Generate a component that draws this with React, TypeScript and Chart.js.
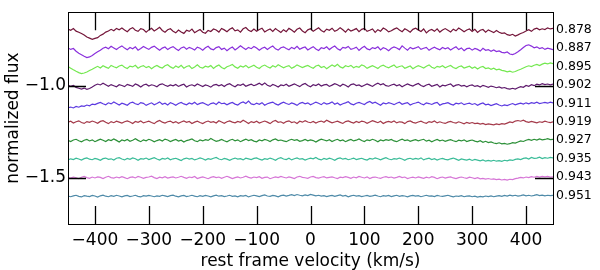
import React, { useEffect, useRef } from "react";
import { Chart, registerables } from "chart.js";

Chart.register(...registerables);

// rest-frame velocity grid (km/s)
const velocity = [
  -450, -445, -440, -435, -430, -425, -420, -415, -410, -405, -400, -395, -390, -385, -380, -375, -370, -365, -360, -355,
  -350, -345, -340, -335, -330, -325, -320, -315, -310, -305, -300, -295, -290, -285, -280, -275, -270, -265, -260, -255,
  -250, -245, -240, -235, -230, -225, -220, -215, -210, -205, -200, -195, -190, -185, -180, -175, -170, -165, -160, -155,
  -150, -145, -140, -135, -130, -125, -120, -115, -110, -105, -100, -95, -90, -85, -80, -75, -70, -65, -60, -55,
  -50, -45, -40, -35, -30, -25, -20, -15, -10, -5, 0, 5, 10, 15, 20, 25, 30, 35, 40, 45,
  50, 55, 60, 65, 70, 75, 80, 85, 90, 95, 100, 105, 110, 115, 120, 125, 130, 135, 140, 145,
  150, 155, 160, 165, 170, 175, 180, 185, 190, 195, 200, 205, 210, 215, 220, 225, 230, 235, 240, 245,
  250, 255, 260, 265, 270, 275, 280, 285, 290, 295, 300, 305, 310, 315, 320, 325, 330, 335, 340, 345,
  350, 355, 360, 365, 370, 375, 380, 385, 390, 395, 400, 405, 410, 415, 420, 425, 430, 435, 440, 445,
  450,
];

// spectrum labels (right side)
const labels = ["0.878", "0.887", "0.895", "0.902", "0.911", "0.919", "0.927", "0.935", "0.943", "0.951"];

// vertical offsets of each spectrum
const baselines = [-0.7, -0.8, -0.9, -1.0, -1.1, -1.2, -1.3, -1.4, -1.5, -1.6];

const colors = ["#74163a", "#8a30dc", "#74e850", "#5e1a6c", "#5c3ae0", "#a43a4a", "#2c9038", "#3abc98", "#d676d6", "#4e8aa8"];

// flux deviations from continuum, in percent
const s0878 = [
  0.8, 0.2, 1.1, -0.3, -0.9, -1.6, -2.4, -3.5, -4.1, -4.7,
  -4.2, -3.8, -2.6, -1.9, -0.8, -0.2, 0.7, -0.1, 1.2, 0.5,
  1.4, 0.3, -0.6, 0.9, 1.6, 0.2, -0.4, 1.1, 0.6, -0.8,
  0.4, 1.3, -0.2, 0.7, 1.8, 0.1, -0.9, 0.5, 1.0, -0.3,
  -1.2, 0.3, -0.7, -1.5, 0.2, -0.4, 0.8, -1.1, -0.2, 0.6,
  -0.9, -1.4, 0.1, -0.5, 0.9, 0.3, -0.8, 1.2, 0.4, -0.6,
  0.7, 1.5, -0.1, 0.4, -0.8, 1.0, 1.7, 0.2, -0.5, 0.8,
  -0.3, 0.6, 1.3, -0.7, 0.2, 0.9, -0.4, 1.1, 0.0, -1.0,
  0.5, -0.6, 1.2, 0.3, -0.9, 0.7, 1.4, -0.2, -1.1, 0.4,
  1.0, -0.3, 0.6, 1.5, 0.1, -0.7, 0.8, 0.2, 1.3, -0.4,
  0.3, 1.6, 0.5, -0.8, 0.9, -0.2, 0.4, 1.1, -0.6, 0.7,
  1.2, -0.4, 0.2, 0.9, -1.0, 0.5, -0.3, 1.4, 0.6, -0.7,
  -0.1, 0.8, 1.5, 0.3, -0.6, 1.0, 0.2, -0.9, 0.7, 1.3,
  0.4, -0.5, 0.9, -1.2, 0.1, 0.6, -0.4, 1.0, -0.8, 0.3,
  1.1, 0.2, -0.7, 0.8, -0.1, 1.4, 0.5, -0.6, 0.3, 0.9,
  -0.4, 0.7, -1.0, 0.2, 0.6, -0.8, 0.4, -0.3, -1.1, 0.1,
  -0.9, -1.5, -1.2, -2.2, -2.6, -2.0, -2.9, -2.3, -1.6, -1.0,
  -0.2, 0.5, -0.4, 0.8, 1.3, 0.4, 1.0, 0.6, 1.5, 0.9,
  1.2,
];
const s0887 = [
  0.6, -0.2, 0.3, -1.2, -2.3, -3.1, -3.9, -4.6, -4.3, -3.5,
  -2.4, -1.5, -0.6, 0.4, 1.0, 0.2, 1.5, 0.6, -0.3, 0.9,
  1.7, 0.5, -0.4, 0.8, 0.1, 1.2, -0.6, 0.3, 1.4, 0.6,
  -0.2, 0.9, 1.6, 0.4, -0.7, 0.5, 1.1, -0.3, 0.7, 1.3,
  0.2, -0.8, 0.6, 1.2, -0.1, 0.9, 0.3, -0.5, 1.0, 0.4,
  -0.6, 0.7, 1.5, 0.1, -0.4, 0.8, 1.3, -0.2, 0.5, -0.9,
  0.3, 1.1, -0.5, 0.6, 1.8, 0.7, -0.3, 0.9, 0.2, 1.4,
  0.5, -0.7, 0.4, 1.0, -0.2, 0.8, 1.6, 0.1, -0.6, 0.7,
  1.2, 0.3, -0.4, 0.9, 0.2, 1.5, -0.1, 0.6, 1.1, -0.5,
  0.4, 1.3, 0.0, -0.8, 0.7, 0.3, 1.2, -0.3, 0.8, 1.6,
  0.2, -0.6, 0.9, 0.5, 1.4, -0.2, 0.3, 1.0, -0.7, 0.6,
  1.5, 0.1, -0.4, 0.8, 0.3, 1.2, -0.5, 0.7, 0.2, -0.9,
  0.4, 1.1, 0.6, -0.3, 1.7, 0.5, -0.6, 0.9, 0.1, 0.6,
  1.3, -0.2, 0.4, 0.9, -0.7, 0.3, 1.0, 0.2, -0.4, 0.8,
  0.1, 0.7, -0.5, 0.4, 1.2, -0.3, 0.6, -0.9, 0.2, 0.5,
  -0.6, 0.3, -0.2, -1.1, 0.4, -0.7, -0.3, -1.2, -0.5, -1.4,
  -1.0, -1.8, -2.1, -1.6, -2.7, -3.0, -2.4, -1.5, -0.4, 0.8,
  1.9, 2.3, 1.6, 0.7, 1.2, 0.3, 0.8, -0.2, 0.5, 0.1,
  -0.3,
];
const s0895 = [
  0.5, -0.4, -1.3, -2.1, -2.8, -3.3, -3.0, -2.5, -1.7, -1.0,
  -0.2, 0.6, -0.3, 0.9, 0.2, -0.5, 1.1, 0.4, -0.2, 0.8,
  1.3, 0.1, -0.6, 0.7, 0.3, 1.2, -0.4, 0.5, 1.0, -0.1,
  0.6, -0.7, 0.4, 1.1, 0.2, -0.3, 0.9, 1.5, 0.3, -0.5,
  0.8, 0.0, 1.2, -0.4, 0.5, 0.9, -0.6, 0.3, 1.4, 0.1,
  -0.3, 0.7, 0.2, 1.0, -0.5, 0.6, 1.3, 0.0, -0.7, 0.4,
  0.9, 1.6, 0.3, -0.4, 0.8, 0.2, 1.1, -0.2, 0.5, 1.2,
  0.1, -0.6, 0.7, 1.3, 0.4, -0.3, 0.9, 0.2, 1.5, 0.6,
  -0.2, 0.5, 1.0, -0.5, 0.3, 1.4, 0.7, -0.1, 0.6, 1.1,
  0.2, -0.4, 0.8, 1.2, 0.0, 0.6, -0.7, 0.4, 1.3, 0.5,
  1.7, 0.3, -0.3, 0.9, 0.4, 1.1, -0.2, 0.6, 0.1, 1.4,
  0.8, -0.5, 0.3, 1.0, 0.2, -0.6, 0.7, 1.2, 0.4, -0.2,
  0.6, 1.3, -0.1, 0.5, 0.9, -0.4, 0.2, 0.8, -0.7, 0.3,
  1.0, 0.4, -0.3, 0.7, 1.4, 0.1, -0.5, 0.6, 0.2, 0.9,
  -0.2, 0.5, 1.1, 0.0, -0.6, 0.4, 0.8, -0.3, 0.2, 0.7,
  -0.4, 0.3, -0.8, 0.1, 0.5, -0.6, -0.2, -1.0, -0.4, -1.3,
  -0.9, -1.6, -1.9, -2.4, -2.0, -2.6, -2.2, -1.5, -1.0, -0.3,
  0.4, 0.9, 0.5, 1.2, 1.6, 1.0, 1.8, 2.3, 1.9, 2.5,
  2.1,
];
const s0902 = [
  0.4, -0.3, 0.2, -0.8, -1.3, -1.7, -1.2, -1.9, -1.4, -0.6,
  0.3, 1.0, 0.5, 1.4, 0.6, -0.2, 0.7, 0.1, -0.5, 0.6,
  0.2, -0.4, 0.8, 0.3, -0.3, 1.0, 0.4, -0.6, 0.5, 0.9,
  -0.1, 0.6, 0.2, -0.5, 0.7, 1.1, 0.3, -0.2, 0.5, 0.0,
  0.8, -0.3, 0.4, 0.9, -0.6, 0.2, 0.6, -0.1, 1.0, 0.3,
  -0.4, 0.5, 0.1, -0.7, 0.4, 0.8, 0.0, 0.6, -0.3, 0.7,
  1.2, 0.2, -0.5, 0.6, 0.3, 1.0, -0.2, 0.4, 0.9, 0.1,
  0.7, 1.4, 0.5, 1.6, 0.3, -0.3, 0.8, 0.2, -0.6, 0.5,
  0.1, 0.9, -0.2, 0.4, 1.1, 0.3, -0.4, 0.7, 1.3, 0.2,
  -0.5, 0.6, 0.2, 1.0, -0.1, 0.5, 0.8, -0.3, 0.4, 1.2,
  0.6, -0.2, 0.9, 0.3, -0.6, 0.7, 1.1, 0.2, 0.5, -0.4,
  0.3, 1.0, 0.4, -0.3, 0.8, 1.5, 0.6, 1.2, 0.1, -0.2,
  0.5, 0.9, 0.0, 0.6, -0.5, 0.3, 1.0, 0.4, -0.1, 0.7,
  1.3, 0.2, -0.4, 0.5, 0.9, -0.2, 0.3, 0.8, -0.6, 0.4,
  0.0, 0.6, 1.1, -0.3, 0.4, 0.7, -0.1, 0.3, -0.5, 0.2,
  0.5, -0.3, 0.1, -0.6, 0.3, -0.2, -0.8, -0.1, -0.5, -1.0,
  -0.6, -1.2, -0.9, -1.5, -1.8, -1.3, -1.7, -1.0, -0.4, -0.8,
  0.2, -0.2, 0.6, 0.1, 0.9, 0.5, 1.2, 0.7, 1.0, 0.6,
  0.9,
];
const s0911 = [
  -1.9, -1.5, -2.0, -1.2, -1.6, -0.9, -1.1, -0.4, -0.8, 0.1,
  -0.2, 0.5, 1.0, 0.3, -0.3, 0.8, 0.2, 1.2, 0.4, -0.4,
  0.6, 0.1, -0.5, 0.7, 1.1, 0.3, -0.2, 0.9, 0.5, -0.6,
  0.2, 0.8, -0.3, 0.4, 1.3, 0.0, 0.6, -0.4, 0.9, 0.3,
  -0.5, 0.4, 1.0, 0.2, -0.3, 0.7, 0.1, 1.1, -0.2, 0.5,
  0.9, 0.2, -0.6, 0.4, 0.8, -0.1, 1.2, 0.3, 0.6, -0.3,
  0.5, 1.0, 0.1, -0.4, 0.7, 1.3, 0.4, 1.7, 0.2, -0.2,
  0.6, 0.0, 0.9, -0.5, 0.3, 0.8, 1.2, 0.2, -0.4, 0.5,
  1.1, 0.4, -0.1, 0.7, 0.2, -0.6, 0.5, 1.0, 0.3, 0.8,
  -0.3, 0.4, 1.2, 0.6, -0.2, 0.9, 0.1, 0.5, 1.3, 0.0,
  0.7, -0.4, 0.3, 0.8, 1.4, 0.2, -0.3, 0.6, 1.0, 0.4,
  -0.1, 0.9, 1.5, 0.5, 1.1, 0.3, -0.5, 0.7, 0.2, 0.9,
  0.4, -0.2, 0.6, 1.1, 0.0, 0.5, 0.9, -0.4, 0.3, 0.7,
  1.2, 0.3, -0.3, 0.8, 0.4, -0.1, 0.6, 1.0, -0.5, 0.2,
  0.5, 0.9, 0.1, -0.4, 0.6, 0.2, 0.8, -0.2, 0.3, 0.6,
  -0.1, 0.4, -0.5, 0.2, 0.7, -0.3, 0.1, -0.7, -0.2, 0.3,
  -0.4, -0.9, -0.3, -0.7, -0.1, 0.4, -0.3, 0.2, 0.6, 0.1,
  0.8, 0.3, 0.9, 0.5, 1.1, 0.4, 0.7, 1.0, 0.6, 1.2,
  0.8,
];
const s0919 = [
  0.3, 0.8, -0.2, 0.5, 1.0, 0.1, -0.4, 0.6, 0.2, 0.9,
  0.4, -0.3, 0.7, 1.1, 0.2, -0.5, 0.6, 0.0, 0.8, 0.3,
  -0.2, 0.5, 1.0, 0.4, -0.4, 0.7, 0.2, 0.9, -0.1, 0.4,
  0.8, 0.1, -0.5, 0.6, 1.2, 0.3, -0.2, 0.5, 0.9, 0.0,
  0.6, -0.3, 0.4, 1.0, 0.2, 0.7, -0.4, 0.3, 0.8, 0.1,
  -0.5, 0.4, 0.9, 0.2, 0.6, -0.2, 1.1, 0.4, -0.3, 0.5,
  1.0, 0.3, -0.1, 0.7, 0.2, 1.3, 0.5, -0.4, 0.6, 0.1,
  0.8, -0.2, 0.4, 0.9, 0.3, -0.5, 0.7, 1.2, 0.2, 0.5,
  -0.3, 0.6, 1.0, 0.1, 0.5, -0.4, 0.8, 0.3, 1.1, 0.4,
  0.0, 0.7, -0.2, 0.5, 0.9, 0.2, 1.3, 0.6, -0.1, 0.4,
  0.8, 0.2, -0.4, 0.6, 1.0, 0.3, -0.2, 0.7, 0.1, 0.9,
  0.5, -0.3, 0.4, 1.1, 0.6, 0.0, 0.8, -0.4, 0.3, 0.7,
  0.2, 0.9, -0.1, 0.5, 0.3, -0.5, 0.6, 1.0, 0.2, -0.2,
  0.4, 0.8, 0.1, -0.3, 0.6, 0.2, 0.9, -0.1, 0.5, 0.0,
  -0.4, 0.3, 0.7, 0.1, -0.2, 0.5, 0.0, -0.6, 0.2, -0.3,
  0.1, -0.5, -0.2, -0.8, -0.4, -1.0, -0.6, -0.9, -1.2, -0.7,
  -1.0, -0.5, -0.8, -0.2, 0.4, 0.1, 0.9, 1.2, 0.8, 1.4,
  0.6, 0.2, 0.7, 0.3, -0.1, 0.5, 0.2, 0.8, 0.4, 0.1,
  0.5,
];
const s0927 = [
  0.4, -0.2, 0.6, 1.0, 0.2, -0.4, 0.5, 0.9, 0.1, 0.7,
  -0.3, 0.4, 1.1, 0.5, -0.2, 0.8, 0.3, 1.2, 0.4, -0.5,
  0.6, 0.2, 0.9, -0.1, 0.5, 1.3, 0.4, -0.3, 0.7, 0.2,
  1.0, 0.5, -0.4, 0.3, 0.8, 0.1, 1.1, 0.6, -0.2, 0.4,
  0.9, 0.0, 0.5, -0.5, 0.3, 0.7, 1.2, 0.2, -0.3, 0.6,
  0.1, 0.8, 0.4, 1.4, 0.6, -0.1, 0.3, 0.9, 0.2, -0.4,
  0.5, 1.0, 0.2, 0.7, -0.3, 0.4, 1.1, 0.3, 0.8, 0.0,
  -0.4, 0.6, 0.2, 0.9, 0.5, -0.2, 0.7, 1.2, 0.3, 0.6,
  0.1, -0.3, 0.5, 1.0, 0.4, 0.8, -0.1, 0.3, 0.9, 0.2,
  0.7, 0.3, -0.5, 0.4, 1.1, 0.6, 0.1, 0.8, -0.2, 0.5,
  1.0, 0.2, 0.6, -0.3, 0.4, 0.9, 0.1, 0.5, 1.2, 0.3,
  -0.2, 0.7, 0.3, 1.0, 0.5, -0.4, 0.6, 0.2, 0.8, 0.4,
  0.9, 0.1, -0.3, 0.5, 1.1, 0.3, 0.7, -0.1, 0.4, 0.8,
  0.2, 0.6, 1.0, 0.0, 0.5, -0.4, 0.3, 0.9, 0.2, 0.6,
  -0.1, 0.4, 0.8, 0.2, -0.3, 0.5, 0.1, 0.7, -0.2, 0.3,
  0.6, 0.0, -0.4, 0.2, -0.6, -0.1, -0.8, -0.4, -1.0, -1.3,
  -0.9, -1.5, -1.2, -1.7, -1.4, -0.8, -1.1, -0.5, 0.1, -0.2,
  0.5, 0.9, 0.4, 1.0, 0.6, 1.2, 0.7, 0.9, 1.3, 0.8,
  1.0,
];
const s0935 = [
  -0.2, 0.4, 0.0, 0.7, 0.3, -0.3, 0.5, 0.9, 0.2, -0.1,
  0.6, 0.2, -0.4, 0.5, 0.8, 0.1, 0.4, -0.3, 0.7, 1.0,
  0.3, -0.2, 0.6, 0.1, 0.9, 0.4, -0.4, 0.5, 0.2, 0.8,
  0.0, 0.5, 1.0, 0.3, -0.3, 0.6, 0.2, 0.9, -0.1, 0.4,
  0.7, 0.1, -0.5, 0.4, 0.8, 0.2, 0.6, -0.2, 0.3, 0.9,
  0.4, -0.3, 0.5, 0.1, 0.7, 1.1, 0.3, -0.1, 0.6, 0.2,
  -0.4, 0.3, 0.8, 0.2, 0.5, -0.2, 0.7, 0.4, 0.0, 0.6,
  0.9, 0.2, -0.3, 0.5, 0.1, 0.8, 0.3, -0.4, 0.6, 1.0,
  0.3, 0.0, 0.7, -0.2, 0.4, 0.9, 0.2, 0.5, -0.3, 0.3,
  0.8, 0.4, 1.1, 0.2, -0.2, 0.6, 0.1, 0.7, 0.3, -0.4,
  0.5, 0.9, 0.2, 0.6, -0.1, 0.3, 0.8, 0.0, 0.4, 0.7,
  0.1, -0.3, 0.6, 0.2, 0.9, 0.4, -0.2, 0.5, 1.0, 0.3,
  -0.1, 0.5, 0.2, 0.8, 0.3, -0.4, 0.4, 0.7, 0.1, 0.6,
  0.2, 0.9, -0.2, 0.4, 0.7, 0.0, 0.5, -0.3, 0.3, 0.6,
  0.1, -0.2, 0.4, 0.8, 0.2, -0.4, 0.3, 0.0, -0.3, 0.2,
  -0.5, 0.1, -0.3, -0.7, -0.2, -0.9, -0.5, -0.8, -0.4, -0.9,
  -0.6, -1.0, -0.4, -0.7, -0.2, -0.5, 0.1, 0.4, 0.0, 0.6,
  0.9, 0.3, 1.1, 0.6, 0.8, 1.3, 0.5, 1.0, 0.7, 1.2,
  0.9,
];
const s0943 = [
  0.3, -0.1, 0.5, 0.1, -0.4, 0.4, 0.8, 0.2, -0.2, 0.5,
  0.0, 0.6, 0.3, -0.3, 0.4, 0.9, 0.2, -0.1, 0.5, 0.1,
  0.7, 0.2, -0.4, 0.3, 0.6, 0.0, 0.8, 0.4, -0.2, 0.3,
  0.5, 1.0, 0.2, -0.3, 0.4, 0.1, 0.7, -0.1, 0.3, 0.6,
  0.0, 0.4, 0.9, 0.3, -0.2, 0.5, 0.2, 0.8, -0.3, 0.2,
  0.6, 0.1, -0.4, 0.3, 0.7, 0.2, 0.5, -0.2, 0.4, 0.9,
  0.3, -0.3, 0.2, 0.6, 0.0, 0.4, 1.0, 0.3, -0.1, 0.5,
  0.2, 0.7, -0.2, 0.3, 0.5, -0.4, 0.1, 0.6, 0.2, 0.8,
  0.4, 0.0, 0.6, 0.2, -0.3, 0.5, 0.9, 0.3, 0.1, -0.2,
  0.5, 0.8, 0.2, -0.1, 0.4, 0.7, 0.0, 0.3, 0.6, 0.1,
  -0.3, 0.4, 0.2, 0.7, 0.3, -0.2, 0.5, 0.1, 0.8, 0.4,
  0.0, 0.6, -0.3, 0.3, 0.5, 0.1, -0.2, 0.4, 0.7, 0.2,
  0.5, -0.1, 0.3, 0.8, 0.2, 0.5, -0.3, 0.1, 0.4, 0.0,
  0.6, 0.2, -0.2, 0.4, 0.0, 0.7, 0.3, -0.4, 0.2, 0.5,
  -0.1, 0.3, 0.6, 0.0, -0.3, 0.2, 0.5, 0.1, -0.2, 0.4,
  0.1, -0.3, 0.2, -0.5, -0.2, -0.6, -0.3, -0.7, -0.5, -0.9,
  -0.6, -1.1, -0.8, -1.2, -0.7, -0.9, -0.4, -0.1, 0.3, 0.0,
  0.5, 0.2, 0.7, 0.4, 0.8, 0.5, 0.9, 0.6, 0.8, 0.5,
  0.6,
];
const s0951 = [
  0.2, -0.2, 0.3, 0.6, 0.0, -0.3, 0.4, 0.1, -0.1, 0.5,
  0.2, -0.4, 0.3, 0.7, 0.1, -0.2, 0.4, 0.0, 0.6, 0.2,
  -0.3, 0.3, 0.5, -0.1, 0.2, 0.6, 0.0, -0.3, 0.4, 0.1,
  0.5, 0.2, -0.2, 0.3, 0.0, 0.6, 0.3, -0.1, 0.4, 0.7,
  0.1, -0.3, 0.3, 0.5, -0.1, 0.2, 0.6, 0.1, -0.2, 0.4,
  0.0, 0.5, 0.2, -0.3, 0.3, 0.7, 0.1, 0.4, -0.1, 0.2,
  0.6, 0.0, 0.3, -0.2, 0.4, 0.1, 0.5, -0.3, 0.2, 0.6,
  0.3, -0.1, 0.4, 0.8, 0.2, 0.0, 0.5, 0.3, -0.2, 0.4,
  0.7, 0.2, 0.5, 0.9, 0.4, 1.0, 0.6, 0.3, 0.8, 0.4,
  1.1, 0.7, 0.3, 0.6, 0.1, 0.4, -0.1, 0.3, 0.5, 0.0,
  0.4, 0.8, 0.2, 0.5, -0.2, 0.3, 0.6, 0.1, 0.4, -0.1,
  0.2, 0.5, 0.0, 0.3, 0.7, 0.2, -0.2, 0.4, 0.1, 0.5,
  -0.1, 0.3, 0.6, 0.0, 0.4, 0.2, -0.3, 0.3, 0.5, 0.1,
  0.4, -0.2, 0.2, 0.6, 0.1, 0.3, -0.1, 0.5, 0.2, 0.0,
  0.3, 0.6, 0.1, -0.3, 0.2, 0.0, 0.4, -0.2, 0.1, 0.3,
  -0.2, 0.1, -0.4, 0.0, -0.3, 0.2, -0.1, 0.3, -0.2, 0.1,
  0.4, 0.0, 0.5, 0.2, 0.7, 0.3, 0.6, 0.1, 0.4, 0.8,
  0.3, 0.6, 0.2, 0.5, 0.9, 0.4, 0.7, 0.3, 0.6, 0.4,
  0.5,
];

const spectra = [s0878, s0887, s0895, s0902, s0911, s0919, s0927, s0935, s0943, s0951];

const xTicks = [-400, -300, -200, -100, 0, 100, 200, 300, 400];
const yTicks = [-1.5, -1.0];

const FONT = "'DejaVu Sans', sans-serif";
const TICK_LEN = 18;

const minusFmt = (v: number, digits: number) => {
  const s = Math.abs(v).toFixed(digits);
  return v < 0 ? "\u2212" + s : s;
};

const framePlugin = {
  id: "frame",
  afterDraw(chart: any) {
    const { ctx, chartArea } = chart;
    const { left, right, top, bottom } = chartArea;
    const xs = chart.scales.x;
    const ys = chart.scales.y;
    ctx.save();
    ctx.strokeStyle = "#000";
    ctx.lineWidth = 1.3;
    ctx.beginPath();
    for (const t of xTicks) {
      const px = Math.round(xs.getPixelForValue(t)) + 0.5;
      ctx.moveTo(px, bottom);
      ctx.lineTo(px, bottom - TICK_LEN);
      ctx.moveTo(px, top);
      ctx.lineTo(px, top + TICK_LEN);
    }
    for (const t of yTicks) {
      const py = Math.round(ys.getPixelForValue(t)) + 0.5;
      ctx.moveTo(left, py);
      ctx.lineTo(left + TICK_LEN, py);
      ctx.moveTo(right, py);
      ctx.lineTo(right - TICK_LEN, py);
    }
    ctx.stroke();
    ctx.lineWidth = 1;
    ctx.strokeRect(Math.round(left) + 0.5, Math.round(top) + 0.5, Math.round(right - left), Math.round(bottom - top));
    // spectrum labels
    ctx.fillStyle = "#000";
    ctx.font = `12.5px ${FONT}`;
    ctx.textAlign = "left";
    ctx.textBaseline = "middle";
    labels.forEach((lab, i) => {
      ctx.fillText(lab, right + 3, ys.getPixelForValue(baselines[i]) - 1);
    });
    ctx.restore();
  },
};

export default function App() {
  const ref = useRef<HTMLCanvasElement>(null);
  useEffect(() => {
    if (!ref.current) return;
    const datasets = spectra.map((s, i) => ({
      label: labels[i],
      data: velocity.map((v, k) => ({ x: v, y: baselines[i] + s[k] / 100 })),
      borderColor: colors[i],
      borderWidth: 1.2,
      pointRadius: 0,
      tension: 0,
      fill: false,
    }));
    const chart = new Chart(ref.current, {
      type: "line",
      data: { datasets },
      options: {
        animation: false,
        responsive: false,
        devicePixelRatio: 1,
        layout: { padding: { left: 0, right: 47, top: 8, bottom: 0 } },
        plugins: { legend: { display: false }, tooltip: { enabled: false } },
        scales: {
          x: {
            type: "linear",
            min: -450,
            max: 450,
            grid: { display: false, drawTicks: false },
            border: { display: false },
            afterBuildTicks: (s: any) => {
              s.ticks = xTicks.map((v) => ({ value: v }));
            },
            afterFit: (s: any) => {
              s.height = 46;
            },
            ticks: {
              color: "#000",
              font: { family: FONT, size: 17 },
              padding: 6,
              maxRotation: 0,
              autoSkip: false,
              callback: (v: any) => minusFmt(Number(v), 0),
            },
            title: {
              display: true,
              text: "rest frame velocity (km/s)",
              color: "#000",
              font: { family: FONT, size: 17 },
              padding: { top: 0, bottom: -2 },
            },
          },
          y: {
            type: "linear",
            min: -1.75,
            max: -0.6,
            grid: { display: false, drawTicks: false },
            border: { display: false },
            afterBuildTicks: (s: any) => {
              s.ticks = yTicks.map((v) => ({ value: v }));
            },
            afterFit: (s: any) => {
              s.width = 68;
            },
            ticks: {
              color: "#000",
              font: { family: FONT, size: 17 },
              padding: 2,
              autoSkip: false,
              callback: (v: any) => minusFmt(Number(v), 1),
            },
            title: {
              display: true,
              text: "normalized flux",
              color: "#000",
              font: { family: FONT, size: 17 },
              padding: { top: 3, bottom: 0 },
            },
          },
        },
      },
      plugins: [framePlugin],
    });
    return () => chart.destroy();
  }, []);
  return (
    <div style={{ position: "absolute", left: 0, top: 0, width: 600, height: 270, background: "#fff" }}>
      <canvas ref={ref} width={600} height={270} />
    </div>
  );
}
